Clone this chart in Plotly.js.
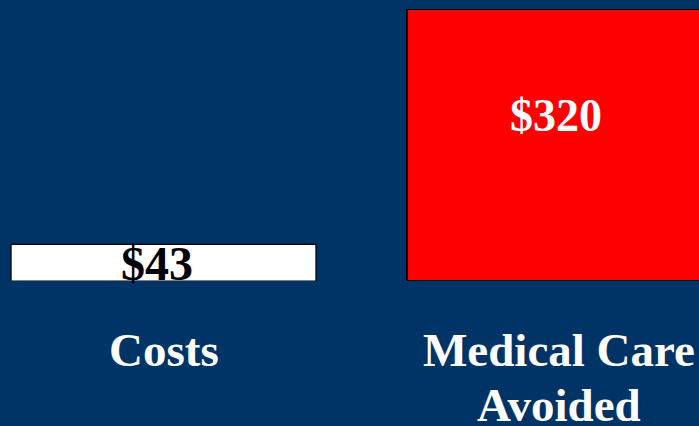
<!DOCTYPE html>
<html>
<head>
<meta charset="utf-8">
<script src="https://cdn.plot.ly/plotly-3.0.1.min.js"></script>
<style>
  html, body { margin: 0; padding: 0; background: #003366; }
  #chart { width: 699px; height: 426px; }
</style>
</head>
<body>
<div id="chart"></div>
<script>
// Data
var categories = ["Costs", "Medical Care<br>Avoided"];
var values = [43, 320];
var valueLabels = ["$43", "$320"];

var barColors = ["#ffffff", "#ff0000"];
var labelColors = ["#000000", "#ffffff"];
var labelFontSizes = [48, 46];
var labelFractions = [0.47, 0.61];
var FONT = "'Times New Roman', 'Liberation Serif', serif";

var xIdx = categories.map(function (c, i) { return i; });

var trace = {
  type: "bar",
  x: xIdx,
  y: values,
  width: 0.77,
  marker: {
    color: barColors,
    line: { color: "#000000", width: [1.2, 2] }
  },
  hoverinfo: "skip",
  showlegend: false
};

var annotations = [];
// value labels inside bars
values.forEach(function (v, i) {
  annotations.push({
    x: xIdx[i], y: v * labelFractions[i], xref: "x", yref: "y",
    text: "<b>" + valueLabels[i] + "</b>",
    showarrow: false, xanchor: "center", yanchor: "middle",
    xshift: i === 0 ? -7 : -3,
    font: { family: FONT, size: labelFontSizes[i], color: labelColors[i] }
  });
});
// category labels below
categories.forEach(function (c, i) {
  c.split("<br>").forEach(function (line, j) {
    annotations.push({
      x: xIdx[i], y: 0, xref: "x", yref: "paper",
      text: "<b>" + line + "</b>",
      showarrow: false, xanchor: "center", yanchor: "middle",
      yshift: -69 - 55 * j,
      font: { family: FONT, size: 47, color: "#ffffff" }
    });
  });
});

var layout = {
  width: 699, height: 426,
  margin: { l: 0, r: 0, t: 9, b: 145, pad: 0 },
  paper_bgcolor: "#003366",
  plot_bgcolor: "#003366",
  xaxis: {
    range: [-0.4129, 1.3523],
    showgrid: false, zeroline: false, showline: false,
    showticklabels: false, ticks: "", fixedrange: true
  },
  yaxis: {
    range: [0, 320],
    showgrid: false, zeroline: false, showline: false,
    showticklabels: false, ticks: "", fixedrange: true
  },
  annotations: annotations,
  showlegend: false
};

Plotly.newPlot("chart", [trace], layout, { displayModeBar: false, staticPlot: true });
</script>
</body>
</html>
